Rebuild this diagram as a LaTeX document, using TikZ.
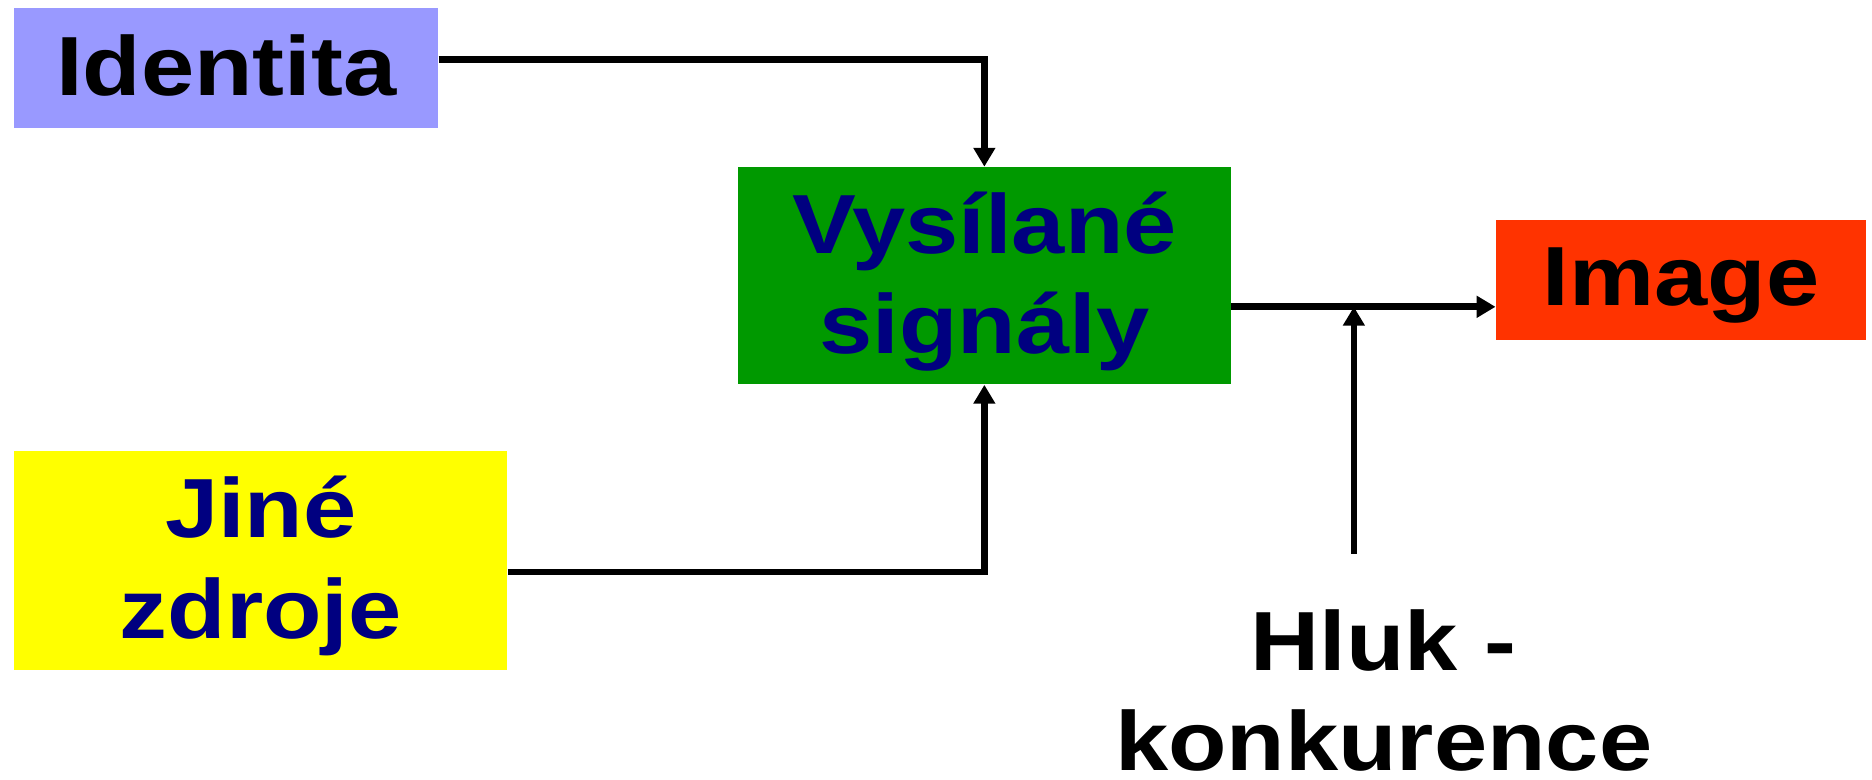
\documentclass[tikz,border=0pt]{standalone}
\usepackage{fontspec}
\setmainfont{Liberation Sans}[FakeStretch=1.14]
\usetikzlibrary{arrows.meta}
\definecolor{idblue}{HTML}{9999FF}
\definecolor{sgreen}{HTML}{009900}
\definecolor{imgred}{HTML}{FF3300}
\definecolor{srcyellow}{HTML}{FFFF00}
\definecolor{navy}{HTML}{000080}

\begin{document}
\begin{tikzpicture}[
		box/.style={inner sep=0pt, align=center, text depth=0.1cm, font=\bfseries\fontsize{40}{48}\selectfont},
		arr/.style={line width=3.2pt, -{Triangle[length=9pt,width=10pt]}}
	]
			\useasboundingbox (0,0) rectangle (31.36,13.06);
			\node[box, fill=idblue, minimum width=7.1cm, minimum height=2cm] (ident) at (3.79,11.92) {Identita};
			\node[box, fill=sgreen, text=navy, minimum width=8.26cm, minimum height=3.64cm] (signal) at (16.49,8.44) {Vysílané\\signály};
			\node[box, fill=imgred, minimum width=6.2cm, minimum height=2.02cm] (image) at (28.16,8.37) {Image};
			\node[box, fill=srcyellow, text=navy, minimum width=8.26cm, minimum height=3.66cm] (other) at (4.37,3.67) {Jiné\\zdroje};
			\node[box] (noise) at (23.18,1.45) {Hluk -\\konkurence};
			\coordinate (join) at (22.68,7.92);
			\coordinate (noisetop) at (22.68,3.78);
			\draw[arr] ([yshift=0.14cm]ident.east) -| (signal.north);
			\draw[arr] ([yshift=-0.19cm]other.east) -| (signal.south);
			\draw[arr] (signal.east |- join) -- (join -| image.west);
			\draw[arr] (noisetop) -- (join);
		\end{tikzpicture}
\end{document}
